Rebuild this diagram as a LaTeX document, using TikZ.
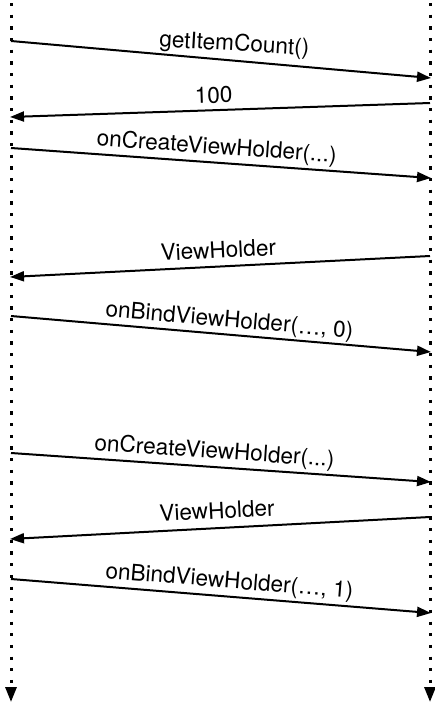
\documentclass[tikz,border=0pt]{standalone}
\usepackage{fontspec}
\setmainfont{TeX Gyre Heros}
\usetikzlibrary{arrows.meta}
\tikzset{
  lifeline/.style={line width=3pt, dash pattern=on 3.3pt off 8.37pt,
    -{Triangle[length=15pt,width=11pt]}},
  msg/.style={line width=2pt, -{Triangle[length=14pt,width=10pt]}},
  lblfont/.style={font=\fontsize{22.6}{27}\selectfont},
  lbl/.style={lblfont, sloped, above, text depth=0pt, inner xsep=0pt, inner ysep=7.5pt},
}
\begin{document}
\begin{tikzpicture}[x=1pt,y=-1pt]
\useasboundingbox (0,0) rectangle (435,704);
% lifelines
\coordinate (Ltop) at (11,3);
\coordinate (Lbot) at (11,702);
\coordinate (Rtop) at (430,3);
\coordinate (Rbot) at (430,702);
\draw[lifeline] (Ltop) -- (Lbot);
\draw[lifeline] (Rtop) -- (Rbot);
% message endpoints
\coordinate (a1) at (11,41);   \coordinate (b1) at (431,78);
\coordinate (a2) at (430,103); \coordinate (b2) at (10,117);
\coordinate (a3) at (11,148);  \coordinate (b3) at (431,178);
\coordinate (a4) at (430,256); \coordinate (b4) at (10,277);
\coordinate (a5) at (11,316);  \coordinate (b5) at (431,352);
\coordinate (a6) at (11,453);  \coordinate (b6) at (431,482);
\coordinate (a7) at (430,517); \coordinate (b7) at (10,539);
\coordinate (a8) at (11,579);  \coordinate (b8) at (431,613);
% messages
\draw[msg] (a1) -- (b1);
\node[lblfont, anchor=base, inner sep=0pt, rotate=-3.2] (t1) at (234,51) {getItemCount()};
\draw[msg] (a2) -- node[lbl, pos=0.514, inner ysep=6pt] (t2) {100} (b2);
\draw[msg] (a3) -- node[lbl, pos=0.487] (t3) {onCreateViewHolder(...)} (b3);
\draw[msg] (a4) -- node[lbl, pos=0.502] (t4) {ViewHolder} (b4);
\draw[msg] (a5) -- node[lbl, pos=0.517, inner ysep=6.5pt] (t5) {onBindViewHolder(…, 0)} (b5);
\draw[msg] (a6) -- node[lbl, pos=0.482] (t6) {onCreateViewHolder(...)} (b6);
\draw[msg] (a7) -- node[lbl, pos=0.505, inner ysep=8.5pt] (t7) {ViewHolder} (b7);
\draw[msg] (a8) -- node[lbl, pos=0.517] (t8) {onBindViewHolder(…, 1)} (b8);
\end{tikzpicture}
\end{document}
